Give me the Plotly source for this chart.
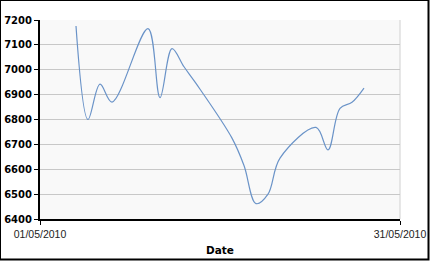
import plotly.graph_objects as go

dates = ["2010-05-04", "2010-05-05", "2010-05-06", "2010-05-07",
         "2010-05-10", "2010-05-11", "2010-05-12", "2010-05-13", "2010-05-14",
         "2010-05-17", "2010-05-18", "2010-05-19", "2010-05-20", "2010-05-21",
         "2010-05-24", "2010-05-25", "2010-05-26", "2010-05-27", "2010-05-28"]
values = [7176, 6800, 6942, 6870,
          7165, 6888, 7085, 7012, 6945,
          6725, 6615, 6462, 6500, 6645,
          6768, 6678, 6845, 6869, 6926]
x_tick_vals = ["2010-05-01", "2010-05-31"]
x_tick_text = ["01/05/2010", "31/05/2010"]
y_ticks = [6400, 6500, 6600, 6700, 6800, 6900, 7000, 7100, 7200]

fig = go.Figure()
fig.add_trace(go.Scatter(
    x=dates, y=values, mode="lines",
    line=dict(color="#6a93c8", width=1.2, shape="spline", smoothing=1.0),
    showlegend=False, hoverinfo="skip",
))

fig.update_layout(
    width=430, height=261,
    margin=dict(l=40, r=30, t=20, b=42, autoexpand=False),
    paper_bgcolor="white",
    plot_bgcolor="#f9f9f9",
    xaxis=dict(
        type="date",
        automargin=False,
        range=["2010-05-01", "2010-05-31"],
        tickvals=x_tick_vals, ticktext=x_tick_text,
        ticks="outside", ticklen=4, tickcolor="black", tickwidth=1,
        showline=True, linecolor="black", linewidth=2,
        showgrid=False, zeroline=False,
        tickfont=dict(family="Liberation Sans, Arial", size=10.5, color="#222222"),
        title=dict(text="Date", standoff=8,
                   font=dict(family="DejaVu Sans, Verdana", size=10.5, color="black", weight="bold")),
    ),
    yaxis=dict(
        automargin=False,
        range=[6400, 7200],
        tickvals=y_ticks,
        ticks="outside", ticklen=4, tickcolor="black", tickwidth=1,
        showline=True, linecolor="black", linewidth=2,
        showgrid=True, gridcolor="#c8c8c8", gridwidth=1,
        zeroline=False,
        tickfont=dict(family="DejaVu Sans, Verdana", size=10, color="black", weight="bold"),
    ),
    shapes=[
        dict(type="line", xref="paper", yref="paper", x0=1, x1=1, y0=0, y1=1,
             line=dict(color="#d0d0d0", width=1), layer="below"),
        dict(type="rect", xref="paper", yref="paper",
             x0=(0 - 40) / 360, x1=(428.5 - 40) / 360,
             y0=(219 - 259.5) / 199, y1=(219 - 0) / 199,
             line=dict(color="black", width=2), fillcolor="rgba(0,0,0,0)"),
    ],
)

fig.write_html("out.html")
